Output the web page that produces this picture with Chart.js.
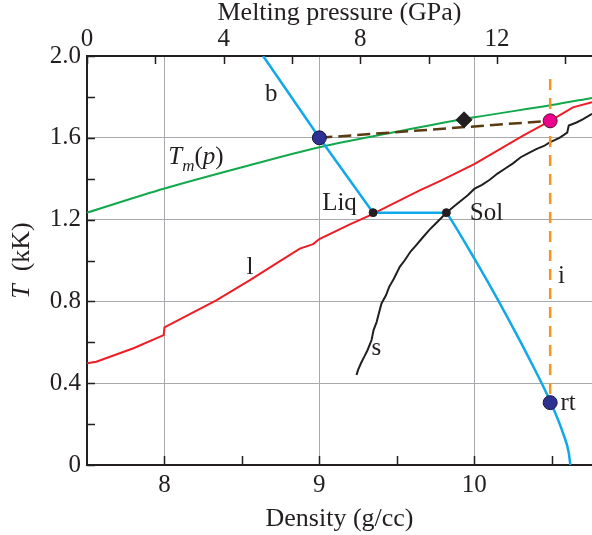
<!DOCTYPE html>
<html>
<head>
<meta charset="utf-8">
<script src="https://cdn.jsdelivr.net/npm/chart.js@4.4.1/dist/chart.umd.min.js"></script>
<style>
  html, body { margin: 0; padding: 0; background: #fff; overflow: hidden; }
  #wrap { width: 592px; height: 535px; }
  canvas { display: block; }
</style>
</head>
<body>
<div id="wrap"><canvas id="chart" width="592" height="535"></canvas></div>
<script>
// axis ranges and ticks
const densityRange = [7.5, 10.76];
const pressureRange = [0, 14.78];
const tempRange = [0, 2.0];
const densityTicks = [8, 8.5, 9, 9.5, 10, 10.5];
const densityLabeled = [8, 9, 10];
const pressureTicks = [0, 2, 4, 6, 8, 10, 12, 14];
const pressureLabeled = [0, 4, 8, 12];
const tempTicks = [0, 0.2, 0.4, 0.6, 0.8, 1.0, 1.2, 1.4, 1.6, 1.8, 2.0];
const tempLabeled = [0, 0.4, 0.8, 1.2, 1.6, 2.0];

// curves: [density g/cc, T kK]
const meltCurve = [[7.5, 1.234], [8.0, 1.352], [8.5, 1.456], [9.0, 1.554], [9.5, 1.630],
  [10.0, 1.700], [10.5, 1.760], [10.76, 1.795]];
const liquidCurve = [[7.5, 0.498], [7.56, 0.505], [7.8, 0.571], [7.995, 0.635], [8.0, 0.673],
  [8.337, 0.806], [8.552, 0.904], [8.72, 0.985], [8.874, 1.058], [8.96, 1.08], [9.0, 1.105],
  [9.197, 1.177], [9.326, 1.221], [9.648, 1.343], [9.788, 1.392], [10.003, 1.473],
  [10.315, 1.611], [10.49, 1.683], [10.637, 1.749], [10.76, 1.774]];
const solidCurve = [[9.24, 0.44], [9.25, 0.465], [9.27, 0.50], [9.29, 0.53], [9.31, 0.56],
  [9.337, 0.611], [9.35, 0.66], [9.37, 0.70], [9.38, 0.73], [9.401, 0.79], [9.43, 0.83],
  [9.45, 0.87], [9.48, 0.91], [9.519, 0.969], [9.55, 1.0], [9.59, 1.045], [9.62, 1.07],
  [9.67, 1.115], [9.71, 1.15], [9.75, 1.18], [9.79, 1.21], [9.82, 1.234], [9.87, 1.265],
  [9.91, 1.29], [9.96, 1.32], [10.0, 1.35], [10.05, 1.37], [10.1, 1.395], [10.15, 1.425],
  [10.2, 1.45], [10.25, 1.475], [10.3, 1.505], [10.35, 1.525], [10.4, 1.545], [10.45, 1.56],
  [10.487, 1.578], [10.55, 1.60], [10.6, 1.625], [10.61, 1.66], [10.66, 1.675], [10.7, 1.69],
  [10.76, 1.717]];
const boundaryUpper = [[8.637, 2.0], [9.0, 1.6], [9.347, 1.234], [9.82, 1.234]];
const boundaryLower = [[9.82, 1.234], [9.842, 1.21], [10.0, 1.01], [10.165, 0.79],
  [10.358, 0.515], [10.494, 0.305], [10.573, 0.156], [10.61, 0.06], [10.62, 0.0]];
const tieLine = [[9.0, 1.6], [10.49, 1.683]];
const isochore = [[10.49, 1.888], [10.49, 0.30]];

// marked states
const bluePoints = [[9.0, 1.6], [10.49, 0.305]];
const pinkPoints = [[10.49, 1.683]];
const blackDots = [[9.347, 1.234], [9.82, 1.234]];
const diamondPoints = [[9.934, 1.688]];

// text labels: [text, density, T, align]
const curveLabels = [
  ['b', 8.69, 1.78, 'center'],
  ['l', 8.552, 0.935, 'center'],
  ['Liq', 9.242, 1.245, 'right'],
  ['Sol', 9.971, 1.20, 'left'],
  ['s', 9.337, 0.538, 'left'],
  ['i', 10.54, 0.888, 'left'],
  ['rt', 10.556, 0.27, 'left']
];
const meltLabelAt = [8.025, 1.473];

const FONT = '"Liberation Serif", "Times New Roman", serif';
const AXIS_COLOR = '#231f20';
const GRID_COLOR = '#a7a9ac';

Chart.defaults.font.family = FONT;
Chart.defaults.color = AXIS_COLOR;

const toXY = (arr) => arr.map(([x, y]) => ({ x, y }));
const near = (list, v) => list.some((t) => Math.abs(t - v) < 1e-6);

function lineSet(data, color, width, extra = {}) {
  return Object.assign({
    data: toXY(data),
    showLine: true,
    borderColor: color,
    borderWidth: width,
    pointRadius: 0,
    fill: false,
    xAxisID: 'x',
    yAxisID: 'y'
  }, extra);
}

function pointSet(data, fill, border, radius, style = 'circle') {
  return {
    data: toXY(data),
    showLine: false,
    pointRadius: radius,
    pointHoverRadius: radius,
    pointStyle: style,
    backgroundColor: fill,
    borderColor: border,
    borderWidth: 1,
    xAxisID: 'x',
    yAxisID: 'y',
    order: 0
  };
}

const inwardTicks = {
  id: 'inwardTicks',
  beforeDatasetsDraw(chart) {
    const { ctx, chartArea, scales } = chart;
    ctx.save();
    ctx.strokeStyle = AXIS_COLOR;
    ctx.lineWidth = 1.5;
    ctx.beginPath();
    densityTicks.forEach((v) => {
      const px = Math.round(scales.x.getPixelForValue(v)) + 0.5;
      ctx.moveTo(px, chartArea.bottom);
      ctx.lineTo(px, chartArea.bottom - 9);
    });
    pressureTicks.forEach((v) => {
      const px = Math.round(scales.x2.getPixelForValue(v)) + 0.5;
      ctx.moveTo(px, chartArea.top);
      ctx.lineTo(px, chartArea.top + 8);
    });
    tempTicks.forEach((v) => {
      const py = Math.round(scales.y.getPixelForValue(v)) + 0.5;
      ctx.moveTo(chartArea.left, py);
      ctx.lineTo(chartArea.left + 8, py);
    });
    ctx.stroke();
    ctx.restore();
  }
};

const textLabels = {
  id: 'textLabels',
  afterDatasetsDraw(chart) {
    const { ctx, scales, chartArea } = chart;
    const sx = scales.x;
    const sy = scales.y;
    ctx.save();
    ctx.fillStyle = AXIS_COLOR;
    ctx.textBaseline = 'alphabetic';
    ctx.font = `25px ${FONT}`;
    curveLabels.forEach(([text, x, y, align]) => {
      ctx.textAlign = align;
      ctx.fillText(text, sx.getPixelForValue(x), sy.getPixelForValue(y));
    });

    // T_m(p)
    ctx.textAlign = 'left';
    let px = sx.getPixelForValue(meltLabelAt[0]);
    const py = sy.getPixelForValue(meltLabelAt[1]);
    const parts = [
      ['T', `italic 25px ${FONT}`, 0],
      ['m', `italic 17px ${FONT}`, 7],
      ['(', `25px ${FONT}`, 0],
      ['p', `italic 25px ${FONT}`, 0],
      [')', `25px ${FONT}`, 0]
    ];
    parts.forEach(([t, f, dy]) => {
      ctx.font = f;
      ctx.fillText(t, px, py + dy);
      px += ctx.measureText(t).width;
    });

    // y axis title: T (kK)
    const cy = (chartArea.top + chartArea.bottom) / 2;
    ctx.translate(29, cy);
    ctx.rotate(-Math.PI / 2);
    ctx.font = `italic 26px ${FONT}`;
    const wT = ctx.measureText('T').width;
    ctx.font = `26px ${FONT}`;
    const rest = '  (kK)';
    const wR = ctx.measureText(rest).width;
    const tx = -(wT + wR) / 2;
    ctx.font = `italic 26px ${FONT}`;
    ctx.fillText('T', tx, 0);
    ctx.font = `26px ${FONT}`;
    ctx.fillText(rest, tx + wT, 0);
    ctx.restore();
  }
};

new Chart(document.getElementById('chart'), {
  type: 'scatter',
  data: {
    datasets: [
      pointSet(bluePoints, '#2e3192', '#15153a', 7),
      pointSet(pinkPoints, '#ec008c', '#5a1038', 7),
      pointSet(blackDots, AXIS_COLOR, AXIS_COLOR, 4),
      pointSet(diamondPoints, AXIS_COLOR, AXIS_COLOR, 8, 'rectRot'),
      lineSet(tieLine, '#5b3a12', 2.5, { borderDash: [13, 6], order: 1 }),
      lineSet(isochore, '#f7941d', 2.5, { borderDash: [11, 8], order: 1 }),
      lineSet(boundaryUpper, '#10a8e8', 2.5, { order: 2 }),
      lineSet(boundaryLower, '#10a8e8', 2.5, { cubicInterpolationMode: 'monotone', order: 2 }),
      lineSet(meltCurve, '#12a84c', 2, { cubicInterpolationMode: 'monotone', order: 3 }),
      lineSet(liquidCurve, '#ee1c25', 2, { order: 3 }),
      lineSet(solidCurve, AXIS_COLOR, 2, { order: 3 })
    ]
  },
  options: {
    responsive: false,
    animation: false,
    devicePixelRatio: 1,
    layout: { padding: 0, autoPadding: false },
    plugins: { legend: { display: false }, tooltip: { enabled: false } },
    scales: {
      x: {
        type: 'linear',
        position: 'bottom',
        min: densityRange[0],
        max: densityRange[1],
        afterBuildTicks(scale) { scale.ticks = densityTicks.map((value) => ({ value })); },
        afterFit(scale) { scale.height = 70; },
        ticks: {
          autoSkip: false,
          maxRotation: 0,
          padding: 5,
          font: { size: 25 },
          color: AXIS_COLOR,
          callback: (v) => (near(densityLabeled, v) ? String(v) : '')
        },
        grid: {
          drawTicks: false,
          lineWidth: 1,
          color: (c) => (c.tick && near(densityLabeled, c.tick.value) ? GRID_COLOR : 'rgba(0,0,0,0)')
        },
        border: { display: true, color: AXIS_COLOR, width: 2 },
        title: { display: true, text: 'Density (g/cc)', font: { size: 26 }, color: AXIS_COLOR, padding: { top: 0, bottom: 0 } }
      },
      x2: {
        type: 'linear',
        position: 'top',
        min: pressureRange[0],
        max: pressureRange[1],
        afterBuildTicks(scale) { scale.ticks = pressureTicks.map((value) => ({ value })); },
        afterFit(scale) { scale.height = 56; },
        ticks: {
          autoSkip: false,
          maxRotation: 0,
          padding: 2,
          font: { size: 25 },
          color: AXIS_COLOR,
          callback: (v) => (near(pressureLabeled, v) ? String(v) : '')
        },
        grid: { display: false, drawTicks: false },
        border: { display: true, color: AXIS_COLOR, width: 2 },
        title: { display: true, text: 'Melting pressure (GPa)', font: { size: 26 }, color: AXIS_COLOR, padding: { top: -2, bottom: 0 } }
      },
      y: {
        type: 'linear',
        position: 'left',
        min: tempRange[0],
        max: tempRange[1],
        afterBuildTicks(scale) { scale.ticks = tempTicks.map((value) => ({ value })); },
        afterFit(scale) { scale.width = 87; },
        ticks: {
          autoSkip: false,
          padding: 6,
          font: { size: 25 },
          color: AXIS_COLOR,
          callback: (v) => (near(tempLabeled, v) ? (v === 0 ? '0' : v.toFixed(1)) : '')
        },
        grid: {
          drawTicks: false,
          lineWidth: 1,
          color: (c) => {
            const v = c.tick ? c.tick.value : -1;
            return v > 0.01 && v < 1.99 && near(tempLabeled, v) ? GRID_COLOR : 'rgba(0,0,0,0)';
          }
        },
        border: { display: true, color: AXIS_COLOR, width: 2 },
        title: { display: false }
      }
    }
  },
  plugins: [inwardTicks, textLabels]
});
</script>
</body>
</html>
